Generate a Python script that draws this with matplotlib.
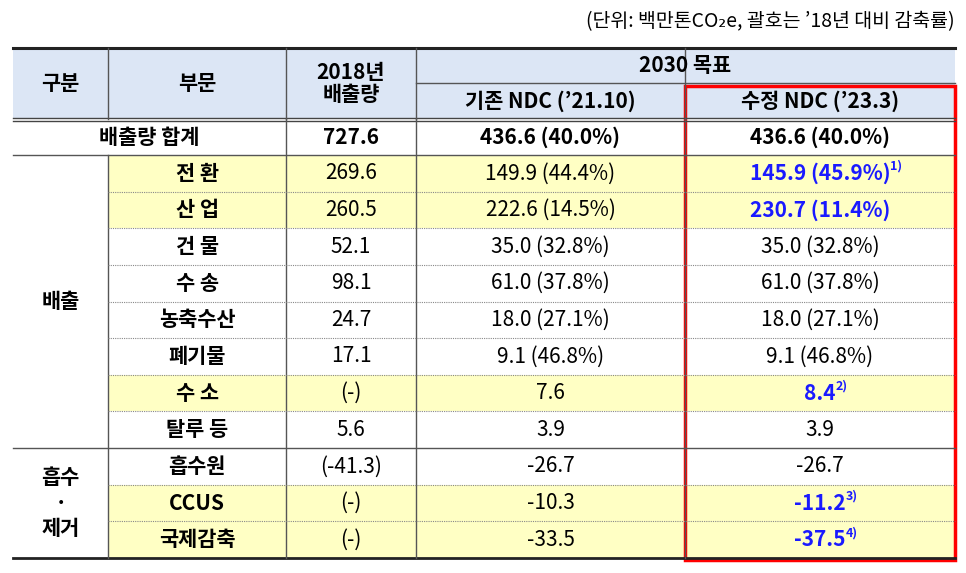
import matplotlib
matplotlib.use("Agg")
import matplotlib.pyplot as plt
from matplotlib.patches import Rectangle

plt.rcParams['font.family'] = ['Noto Sans CJK KR', 'Noto Sans CJK JP', 'Noto Sans CJK SC', 'DejaVu Sans']

sectors = ["전 환", "산 업", "건 물", "수 송", "농축수산", "폐기물", "수 소", "탈루 등", "흡수원", "CCUS", "국제감축"]
emis2018 = ["269.6", "260.5", "52.1", "98.1", "24.7", "17.1", "(-)", "5.6", "(-41.3)", "(-)", "(-)"]
ndc_old = ["149.9 (44.4%)", "222.6 (14.5%)", "35.0 (32.8%)", "61.0 (37.8%)", "18.0 (27.1%)", "9.1 (46.8%)", "7.6", "3.9", "-26.7", "-10.3", "-33.5"]
ndc_new = ["145.9 (45.9%)", "230.7 (11.4%)", "35.0 (32.8%)", "61.0 (37.8%)", "18.0 (27.1%)", "9.1 (46.8%)", "8.4", "3.9", "-26.7", "-11.2", "-37.5"]
footnotes = ["1)", "", "", "", "", "", "2)", "", "", "3)", "4)"]
highlight = [True, True, False, False, False, False, True, False, False, True, True]
total = ["배출량 합계", "727.6", "436.6 (40.0%)", "436.6 (40.0%)"]

fig = plt.figure(figsize=(9.66, 5.73), dpi=100)
ax = fig.add_axes([0, 0, 1, 1])
ax.set_xlim(0, 966); ax.set_ylim(573, 0); ax.axis('off')

X = [13, 108, 286, 416, 685, 955]
HB, H1, H2, TB = 48, 83, 119, 155
rh = (558 - TB) / len(sectors)
FS = 15
HDR = '#dce6f5'; YEL = '#ffffc4'

ax.text(955, 22, "(단위: 백만톤CO₂e, 괄호는 ’18년 대비 감축률)", ha='right', va='center', fontsize=14)

ax.add_patch(Rectangle((X[0], HB), X[5]-X[0], H2-HB, fc=HDR, ec='none'))
for i, s in enumerate(sectors):
    y0 = TB + i*rh
    if highlight[i]:
        ax.add_patch(Rectangle((X[1], y0), X[5]-X[1], rh, fc=YEL, ec='none'))

lc = '#555555'
ax.plot([X[0], X[5]], [HB, HB], color='#222', lw=2.2)
ax.plot([X[0], X[5]], [H2-1.5, H2-1.5], color='#444', lw=1)
ax.plot([X[0], X[5]], [H2+1.5, H2+1.5], color='#444', lw=1)
ax.plot([X[3], X[5]], [H1, H1], color=lc, lw=1)
ax.plot([X[0], X[5]], [TB, TB], color=lc, lw=1)
ax.plot([X[0], X[5]], [558, 558], color='#222', lw=2)
for x in X[1:5]:
    ax.plot([x, x], [HB, H2], color=lc, lw=1)
for x in X[2:5]:
    ax.plot([x, x], [H2, 558], color=lc, lw=1)
ax.plot([X[1], X[1]], [TB, 558], color=lc, lw=1)
yg = TB + 8*rh
ax.plot([X[0], X[5]], [yg, yg], color=lc, lw=1)
for i in range(1, len(sectors)):
    if i == 8: continue
    y = TB + i*rh
    ax.plot([X[1], X[5]], [y, y], color='#888', lw=0.8, ls=(0, (1, 1)))

cx = [(X[i]+X[i+1])/2 for i in range(5)]
ax.text(cx[0], (HB+H2)/2, "구분", ha='center', va='center', fontsize=FS, weight='bold')
ax.text(cx[1], (HB+H2)/2, "부문", ha='center', va='center', fontsize=FS, weight='bold')
ax.text(cx[2], (HB+H2)/2, "2018년\n배출량", ha='center', va='center', fontsize=FS, weight='bold', linespacing=1.1)
ax.text((X[3]+X[5])/2, (HB+H1)/2, "2030 목표", ha='center', va='center', fontsize=FS, weight='bold')
ax.text(cx[3], (H1+H2)/2, "기존 NDC (’21.10)", ha='center', va='center', fontsize=FS, weight='bold')
ax.text(cx[4], (H1+H2)/2, "수정 NDC (’23.3)", ha='center', va='center', fontsize=FS, weight='bold')

ty = (H2+TB)/2
ax.text((X[0]+X[2])/2, ty, total[0], ha='center', va='center', fontsize=FS, weight='bold')
for j in range(1, 4):
    ax.text(cx[j+1], ty, total[j], ha='center', va='center', fontsize=FS, weight='bold')

ax.text(cx[0], TB + 4*rh, "배출", ha='center', va='center', fontsize=FS, weight='bold')
ax.text(cx[0], TB + 9.5*rh, "흡수\n·\n제거", ha='center', va='center', fontsize=FS, weight='bold', linespacing=1.25)

for i, s in enumerate(sectors):
    y = TB + (i+0.5)*rh
    ax.text(cx[1], y, s, ha='center', va='center', fontsize=FS, weight='bold')
    ax.text(cx[2], y, emis2018[i], ha='center', va='center', fontsize=FS)
    ax.text(cx[3], y, ndc_old[i], ha='center', va='center', fontsize=FS)
    if highlight[i]:
        t = ax.text(cx[4], y, ndc_new[i], ha='center', va='center', fontsize=FS, weight='bold', color='#1a1aff')
        if footnotes[i]:
            fig.canvas.draw()
            bb = t.get_window_extent().transformed(ax.transData.inverted())
            ax.text(max(bb.x0, bb.x1), y-7, footnotes[i], ha='left', va='center', fontsize=9, weight='bold', color='#1a1aff')
    else:
        ax.text(cx[4], y, ndc_new[i], ha='center', va='center', fontsize=FS)

ax.add_patch(Rectangle((685, 86), 955-685, 560-86, fc='none', ec='#ff0000', lw=2.5))

fig.savefig("out.png", dpi=100)
